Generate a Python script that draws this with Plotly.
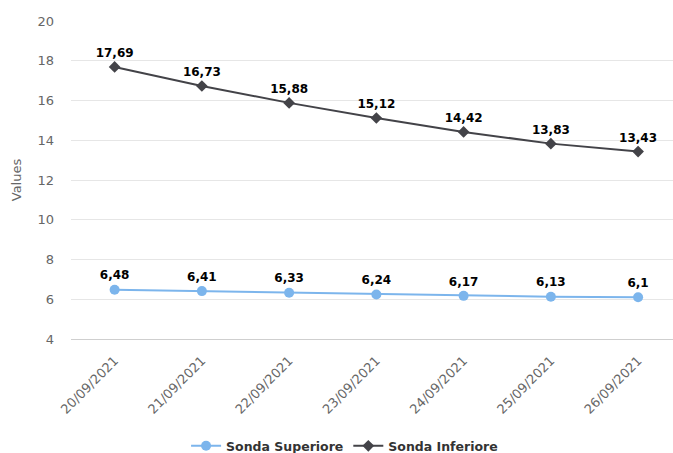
import plotly.graph_objects as go

categories = ["20/09/2021", "21/09/2021", "22/09/2021", "23/09/2021",
              "24/09/2021", "25/09/2021", "26/09/2021"]
sonda_superiore = [6.48, 6.41, 6.33, 6.24, 6.17, 6.13, 6.1]
sonda_inferiore = [17.69, 16.73, 15.88, 15.12, 14.42, 13.83, 13.43]
y_ticks = [4, 6, 8, 10, 12, 14, 16, 18, 20]

def fmt(v):
    s = ("%.2f" % v).rstrip("0").rstrip(".")
    return s.replace(".", ",")

FONT = "DejaVu Sans"
xs = list(range(len(categories)))

fig = go.Figure()
fig.add_trace(go.Scatter(
    x=xs, y=sonda_superiore, name="Sonda Superiore",
    mode="lines+markers+text",
    line=dict(color="#7cb5ec", width=2),
    marker=dict(symbol="circle", size=10, color="#7cb5ec"),
    text=[fmt(v) for v in sonda_superiore], textposition="top center",
    textfont=dict(family=FONT, size=12, color="#000000", weight="bold"),
    cliponaxis=False,
))
fig.add_trace(go.Scatter(
    x=xs, y=sonda_inferiore, name="Sonda Inferiore",
    mode="lines+markers+text",
    line=dict(color="#434348", width=2),
    marker=dict(symbol="diamond", size=9, color="#434348"),
    text=[fmt(v) for v in sonda_inferiore], textposition="top center",
    textfont=dict(family=FONT, size=12, color="#000000", weight="bold"),
    cliponaxis=False,
))

fig.update_layout(
    width=673, height=453,
    margin=dict(l=71, r=0, t=21, b=114),
    paper_bgcolor="white", plot_bgcolor="white",
    font=dict(family=FONT, size=12, color="#666666"),
    showlegend=True,
    legend=dict(orientation="h", xref="container", x=0.512, xanchor="center",
                yref="container", y=0.015, yanchor="middle",
                font=dict(family=FONT, size=12.5, color="#333333", weight="bold"),
                itemwidth=30),
    xaxis=dict(
        tickmode="array", tickvals=xs, ticktext=categories,
        range=[-0.5, 6.4], tickangle=-45,
        showgrid=False, zeroline=False,
        showline=True, linecolor="#cfcfcf", linewidth=1,
        ticks="", ticklabelstandoff=8,
        tickfont=dict(family=FONT, size=13, color="#666666"),
    ),
    yaxis=dict(
        range=[4, 20], tickmode="array", tickvals=y_ticks,
        showgrid=True, gridcolor="#e6e6e6", gridwidth=1,
        zeroline=False, showline=False, ticks="", ticklabelstandoff=16,
        tickfont=dict(family=FONT, size=13, color="#666666"),
        title=dict(text="Values", font=dict(family=FONT, size=13, color="#666666"), standoff=12),
    ),
)

fig.write_html("out.html", config={"displayModeBar": False},
               post_script="document.body.style.margin='0';document.body.style.overflow='hidden';")
